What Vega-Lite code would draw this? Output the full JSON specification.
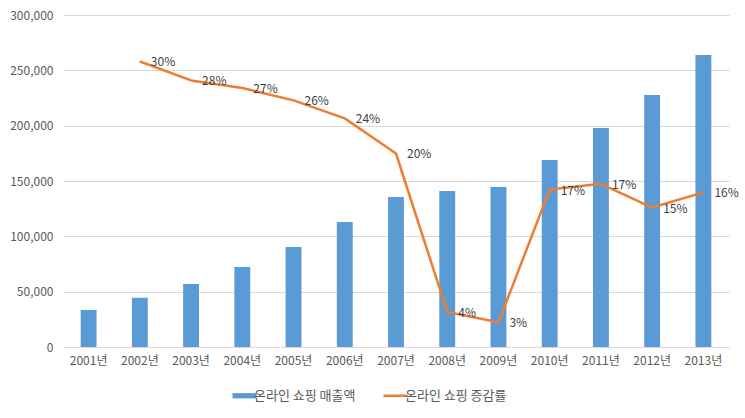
{
  "$schema": "https://vega.github.io/schema/vega-lite/v6.json",
  "width": 666,
  "height": 332,
  "autosize": "none",
  "padding": {"left": 63, "top": 15, "right": 16, "bottom": 71},
  "background": "white",
  "config": {
    "font": "Noto Sans CJK KR",
    "view": {"stroke": null},
    "axis": {"labelFont": "Noto Sans CJK KR", "labelFontSize": 12, "labelColor": "#595959"}
  },
  "data": {
    "values": [
      {"year": "2001년", "sales": 33500, "growth": null, "label": ""},
      {"year": "2002년", "sales": 44500, "growth": 0.301, "label": "30%"},
      {"year": "2003년", "sales": 57000, "growth": 0.281, "label": "28%"},
      {"year": "2004년", "sales": 72300, "growth": 0.273, "label": "27%"},
      {"year": "2005년", "sales": 90400, "growth": 0.26, "label": "26%"},
      {"year": "2006년", "sales": 113000, "growth": 0.241, "label": "24%"},
      {"year": "2007년", "sales": 135500, "growth": 0.204, "label": "20%"},
      {"year": "2008년", "sales": 141000, "growth": 0.037, "label": "4%"},
      {"year": "2009년", "sales": 144600, "growth": 0.026, "label": "3%"},
      {"year": "2010년", "sales": 169000, "growth": 0.166, "label": "17%"},
      {"year": "2011년", "sales": 198000, "growth": 0.172, "label": "17%"},
      {"year": "2012년", "sales": 227700, "growth": 0.147, "label": "15%"},
      {"year": "2013년", "sales": 263800, "growth": 0.163, "label": "16%"}
    ]
  },
  "encoding": {
    "x": {
      "field": "year",
      "type": "nominal",
      "sort": null,
      "scale": {"paddingInner": 0.69, "paddingOuter": 0.345},
      "axis": {
        "title": null,
        "labelAngle": 0,
        "ticks": false,
        "domain": false,
        "labelPadding": 8
      }
    }
  },
  "layer": [
    {
      "mark": {"type": "bar"},
      "encoding": {
        "y": {
          "field": "sales",
          "type": "quantitative",
          "scale": {"domain": [0, 300000]},
          "axis": {
            "title": null,
            "format": ",.0f",
            "values": [0, 50000, 100000, 150000, 200000, 250000, 300000],
            "domain": false,
            "ticks": false,
            "gridColor": "#d9d9d9",
            "gridWidth": 1,
            "labelPadding": 10
          }
        },
        "color": {
          "datum": "온라인 쇼핑 매출액",
          "type": "nominal",
          "scale": {
            "domain": ["온라인 쇼핑 매출액", "온라인 쇼핑 증감률"],
            "range": ["#5b9bd5", "#ed7d31"]
          },
          "legend": {
            "title": null,
            "orient": "none",
            "direction": "horizontal",
            "legendX": 175,
            "legendY": 374,
            "labelFont": "Noto Sans CJK KR",
            "labelFontSize": 13,
            "labelColor": "#595959",
            "symbolSize": 576,
            "symbolStrokeWidth": 2.5,
            "columnPadding": 22,
            "labelOffset": 3,
            "encode": {
              "symbols": {
                "update": {
                  "shape": {"signal": "datum.value === '온라인 쇼핑 매출액' ? 'M-1,-0.22H1V0.22H-1Z' : 'M-1,0H1'"},
                  "strokeWidth": {"signal": "datum.value === '온라인 쇼핑 매출액' ? 0 : 2.5"}
                }
              }
            }
          }
        }
      }
    },
    {
      "mark": {"type": "line", "strokeWidth": 2.5, "strokeJoin": "round"},
      "encoding": {
        "y": {
          "field": "growth",
          "type": "quantitative",
          "scale": {"domain": [0, 0.35]},
          "axis": null
        },
        "color": {"datum": "온라인 쇼핑 증감률", "type": "nominal"}
      }
    },
    {
      "mark": {
        "type": "text",
        "align": "left",
        "baseline": "middle",
        "dx": 11,
        "dy": 1,
        "fontSize": 12,
        "font": "Noto Sans CJK KR",
        "color": "#404040"
      },
      "encoding": {
        "y": {
          "field": "growth",
          "type": "quantitative",
          "scale": {"domain": [0, 0.35]},
          "axis": null
        },
        "text": {"field": "label"}
      }
    }
  ],
  "resolve": {"scale": {"y": "independent"}}
}
